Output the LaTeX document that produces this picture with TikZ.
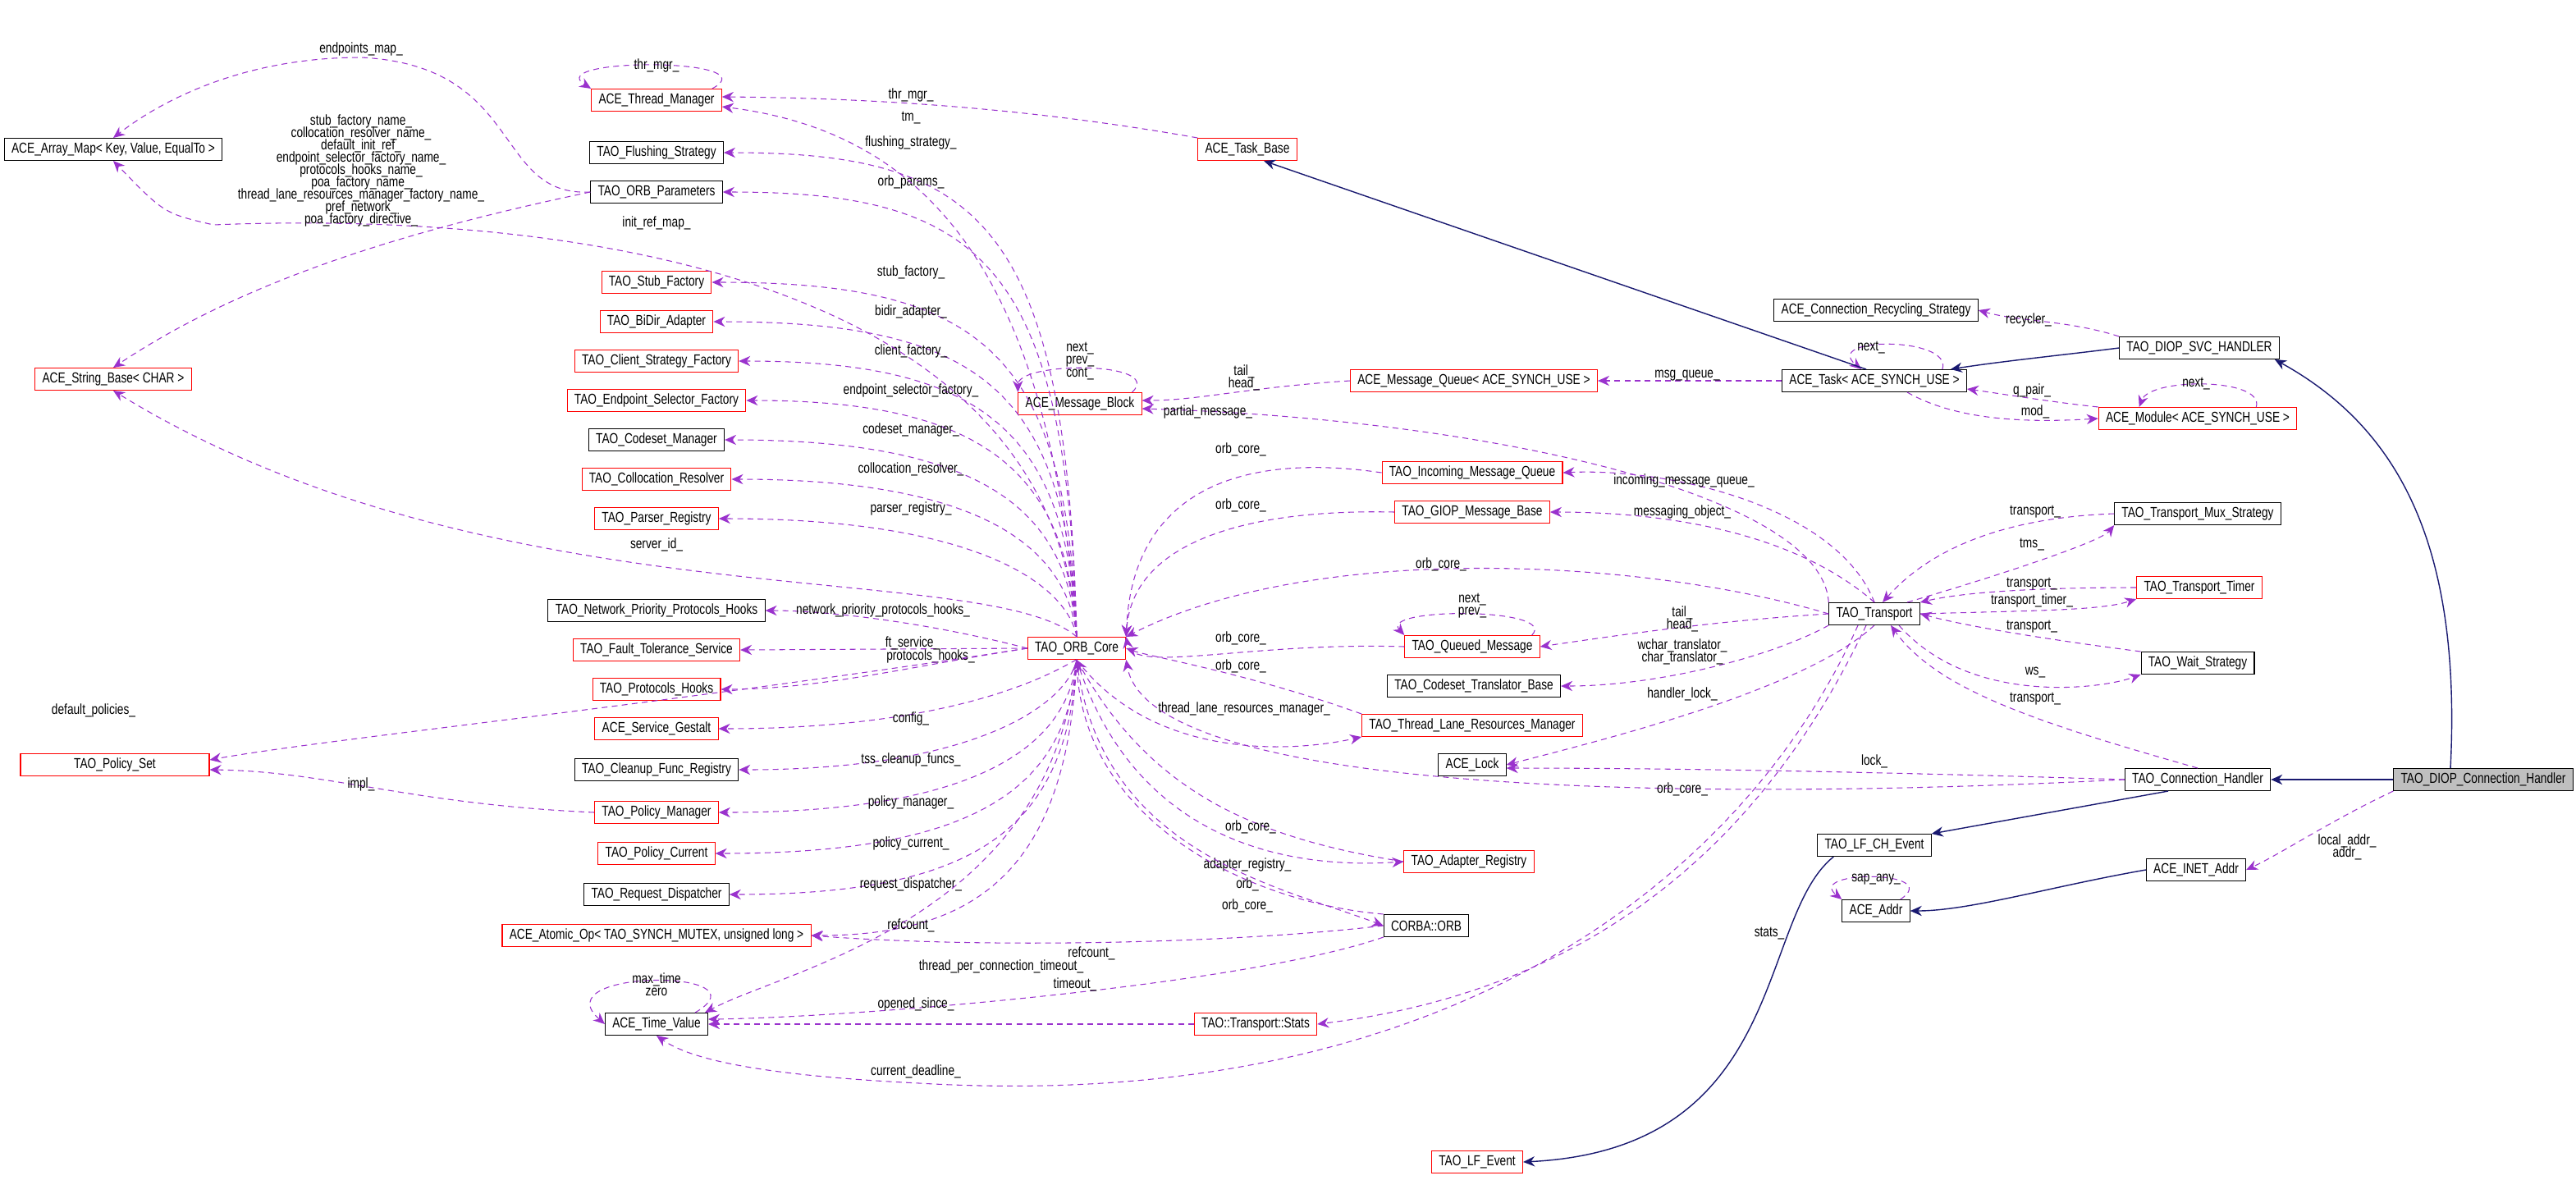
\documentclass[tikz,border=0pt]{standalone}
\usepackage{fontspec}
\setmainfont{Liberation Sans}[FakeStretch=0.78]
\usetikzlibrary{arrows.meta,calc}
\definecolor{depcol}{HTML}{9A32CD}
\definecolor{inhcol}{HTML}{191970}
\newcommand\lblfont{\fontsize{5}{4.3}\selectfont\lineskiplimit=-5pt\relax\lineskip=0pt\relax}
\tikzset{
  cls/.style={draw=red,line width=0.3pt,minimum height=0.27cm,inner xsep=2.5pt,inner ysep=0pt,font=\fontsize{5}{5}\selectfont},
  clsb/.style={cls,draw=black},
  dep/.style={draw=depcol,dashed,dash pattern=on 2pt off 1.5pt,line width=0.3pt,-{Stealth[length=4pt,width=3.5pt,fill=depcol]}},
  inh/.style={draw=inhcol,line width=0.4pt,-{Stealth[length=4pt,width=3.5pt,fill=inhcol]}},
  lbl/.style={font=\lblfont,align=center,inner sep=0pt}
}
\begin{document}
\begin{tikzpicture}[x=0.02cm,y=-0.02cm]
\useasboundingbox (0,0) rectangle (1569.5,732.5);
% classes
\node[clsb] (arrmap) at (69,91) {ACE\_Array\_Map< Key, Value, EqualTo >};
\node[cls] (strbase) at (69,231) {ACE\_String\_Base< CHAR >};
\node[cls,minimum width=2.3cm] (pset) at (70,466) {TAO\_Policy\_Set};
\node[cls] (tmgr) at (400,61) {ACE\_Thread\_Manager};
\node[clsb] (flush) at (400,93) {TAO\_Flushing\_Strategy};
\node[clsb] (params) at (400,117) {TAO\_ORB\_Parameters};
\node[cls] (stub) at (400,172) {TAO\_Stub\_Factory};
\node[cls] (bidir) at (400,196) {TAO\_BiDir\_Adapter};
\node[cls] (client) at (400,220) {TAO\_Client\_Strategy\_Factory};
\node[cls] (epsel) at (400,244) {TAO\_Endpoint\_Selector\_Factory};
\node[clsb] (codeset) at (400,268) {TAO\_Codeset\_Manager};
\node[cls] (colloc) at (400,292) {TAO\_Collocation\_Resolver};
\node[cls] (parser) at (400,316) {TAO\_Parser\_Registry};
\node[clsb] (nphooks) at (400,372) {TAO\_Network\_Priority\_Protocols\_Hooks};
\node[cls] (ft) at (400,396) {TAO\_Fault\_Tolerance\_Service};
\node[cls] (phooks) at (400,420) {TAO\_Protocols\_Hooks};
\node[cls] (gestalt) at (400,444) {ACE\_Service\_Gestalt};
\node[clsb] (cleanup) at (400,469) {TAO\_Cleanup\_Func\_Registry};
\node[cls] (pmgr) at (400,495) {TAO\_Policy\_Manager};
\node[cls] (pcur) at (400,520) {TAO\_Policy\_Current};
\node[clsb] (rdisp) at (400,545) {TAO\_Request\_Dispatcher};
\node[cls] (atomic) at (400,570) {ACE\_Atomic\_Op< TAO\_SYNCH\_MUTEX, unsigned long >};
\node[clsb] (tv) at (400,624) {ACE\_Time\_Value};
\node[cls] (orb) at (656,395) {TAO\_ORB\_Core};
\node[cls] (mblock) at (658,246) {ACE\_Message\_Block};
\node[clsb] (corba) at (869,564) {CORBA::ORB};
\node[cls] (adreg) at (895,525) {TAO\_Adapter\_Registry};
\node[cls] (stats) at (765,624) {TAO::Transport::Stats};
\node[cls] (lfev) at (900,708) {TAO\_LF\_Event};
\node[cls] (taskbase) at (760,91) {ACE\_Task\_Base};
\node[clsb] (recyc) at (1143,189) {ACE\_Connection\_Recycling\_Strategy};
\node[clsb] (svc) at (1340,212) {TAO\_DIOP\_SVC\_HANDLER};
\node[clsb] (task) at (1142,232) {ACE\_Task< ACE\_SYNCH\_USE >};
\node[cls] (mqueue) at (898,232) {ACE\_Message\_Queue< ACE\_SYNCH\_USE >};
\node[cls] (module) at (1339,255) {ACE\_Module< ACE\_SYNCH\_USE >};
\node[cls] (inq) at (897,288) {TAO\_Incoming\_Message\_Queue};
\node[cls] (giop) at (897,312) {TAO\_GIOP\_Message\_Base};
\node[clsb] (mux) at (1339,313) {TAO\_Transport\_Mux\_Strategy};
\node[cls] (timer) at (1340,358) {TAO\_Transport\_Timer};
\node[clsb] (transport) at (1142,374) {TAO\_Transport};
\node[cls] (queued) at (897,394) {TAO\_Queued\_Message};
\node[clsb] (wait) at (1339,404) {TAO\_Wait\_Strategy};
\node[clsb] (cstrans) at (898,418) {TAO\_Codeset\_Translator\_Base};
\node[cls] (tlrm) at (897,442) {TAO\_Thread\_Lane\_Resources\_Manager};
\node[clsb] (lock) at (897,466) {ACE\_Lock};
\node[clsb] (conn) at (1339,475) {TAO\_Connection\_Handler};
\node[clsb,fill=black!25] (diop) at (1513,475) {TAO\_DIOP\_Connection\_Handler};
\node[clsb] (lfch) at (1142,515) {TAO\_LF\_CH\_Event};
\node[clsb] (inet) at (1338,530) {ACE\_INET\_Addr};
\node[clsb] (addr) at (1143,555) {ACE\_Addr};
\coordinate (lx) at (555,0);
% members of TAO_ORB_Core
\foreach \t/\l in {flush/flushing\_strategy\_,params/orb\_params\_,stub/stub\_factory\_,bidir/bidir\_adapter\_,client/client\_factory\_,epsel/endpoint\_selector\_factory\_,codeset/codeset\_manager\_,colloc/collocation\_resolver\_,parser/parser\_registry\_}{
  \draw[dep] (orb.north) .. controls ($(\t.east -| lx)+(95,40)$) and ($(\t.east -| lx)+(40,0)$) .. (\t.east);
  \node[lbl,above=1pt] at (\t.east -| lx) {\l};
}
\foreach \t/\l in {gestalt/config\_,cleanup/tss\_cleanup\_funcs\_,pmgr/policy\_manager\_,pcur/policy\_current\_,rdisp/request\_dispatcher\_,atomic/refcount\_}{
  \draw[dep] (orb.south) .. controls ($(\t.east -| lx)+(95,-40)$) and ($(\t.east -| lx)+(40,0)$) .. (\t.east);
  \node[lbl,above=1pt] at (\t.east -| lx) {\l};
}
\draw[dep] (orb.west) .. controls (560,378) and (500,372) .. (nphooks.east);
\node[lbl] at (538,372) {network\_priority\_protocols\_hooks\_};
\draw[dep] (orb.west) -- (ft.east);
\node[lbl] at (556,392) {ft\_service\_};
\draw[dep] (orb.west) .. controls (560,405) and (500,420) .. (phooks.east);
\node[lbl] at (567,400) {protocols\_hooks\_};
\draw[dep] (orb.north) .. controls (640,160) and (560,80) .. ($(tmgr.east)+(0,4)$);
\node[lbl] at (555,72) {tm\_};
\draw[dep] (orb.north) .. controls (640,150) and (300,130) .. (130,137) .. controls (100,130) .. (arrmap.south);
\node[lbl] at (400,136) {init\_ref\_map\_};
\draw[dep] (params.west) .. controls (300,120) and (320,40) .. (220,35) .. controls (150,35) and (100,60) .. (arrmap.north);
\node[lbl] at (220,30) {endpoints\_map\_};
\draw[dep] (params.west) .. controls (250,140) and (150,170) .. (strbase.north);
\node[lbl] at (220,104) {stub\_factory\_name\_\\collocation\_resolver\_name\_\\default\_init\_ref\_\\endpoint\_selector\_factory\_name\_\\protocols\_hooks\_name\_\\poa\_factory\_name\_\\thread\_lane\_resources\_manager\_factory\_name\_\\pref\_network\_\\poa\_factory\_directive\_};
\draw[dep] (orb.north) .. controls (600,340) and (300,380) .. (strbase.south);
\node[lbl] at (400,332) {server\_id\_};
\draw[dep] (orb.west) .. controls (400,430) and (200,450) .. ($(pset.east)+(0,-3)$);
\node[lbl] at (57,433) {default\_policies\_};
\draw[dep] (pmgr.west) .. controls (250,490) and (200,470) .. ($(pset.east)+(0,3)$);
\node[lbl] at (220,478) {impl\_};
\draw[dep] (corba.west) .. controls (750,575) and (600,578) .. (atomic.east);
\node[lbl] at (665,581) {refcount\_};
\draw[dep] (orb.south) .. controls (640,560) and (480,590) .. ($(tv.north east)+(-2,0)$);
\node[lbl] at (610,589) {thread\_per\_connection\_timeout\_};
\draw[dep] (corba.south west) .. controls (760,600) and (520,620) .. ($(tv.east)+(0,-3)$);
\node[lbl] at (655,600) {timeout\_};
\draw[dep] ($(tv.north east)+(-8,0)$) .. controls (470,590) and (330,590) .. (tv.west);
\node[lbl] at (400,600) {max\_time\\zero};
\draw[dep] ($(tmgr.north east)+(-6,0)$) .. controls (470,35) and (330,35) .. (tmgr.north west);
\node[lbl] at (400,40) {thr\_mgr\_};
\draw[dep] (taskbase.north west) .. controls (650,70) and (560,60) .. ($(tmgr.east)+(0,-2)$);
\node[lbl] at (555,58) {thr\_mgr\_};
\draw[dep] ($(mblock.north east)+(-6,0)$) .. controls (710,220) and (620,220) .. (mblock.north west);
\node[lbl] at (658,220) {next\_\\prev\_\\cont\_};
% ORB_Core back references
\foreach \s/\yy in {inq/276,giop/310,queued/391}{
  \draw[dep] (\s.west) .. controls (760,\yy) and (690,\yy+20) .. (orb.north east);
  \node[lbl] at (756,\yy-2) {orb\_core\_};
}
\draw[dep] (transport.west) .. controls (1000,340) and (800,330) .. (orb.north east);
\node[lbl] at (878,344) {orb\_core\_};
\draw[dep] (tlrm.north west) .. controls (760,410) and (700,400) .. (orb.east);
\node[lbl] at (756,406) {orb\_core\_};
\draw[dep] (orb.south) .. controls (700,460) and (780,460) .. (tlrm.south west);
\node[lbl] at (758,432) {thread\_lane\_resources\_manager\_};
\draw[dep] (conn.west) .. controls (1000,490) and (700,480) .. (orb.south east);
\node[lbl] at (1025,481) {orb\_core\_};
\draw[dep] (adreg.west) .. controls (760,510) and (700,480) .. (orb.south);
\node[lbl] at (762,504) {orb\_core\_};
\draw[dep] (orb.south) .. controls (690,510) and (780,530) .. (adreg.west);
\node[lbl] at (760,527) {adapter\_registry\_};
\draw[dep] (orb.south) .. controls (670,520) and (780,540) .. (corba.west);
\node[lbl] at (760,539) {orb\_};
\draw[dep] (corba.north west) .. controls (760,550) and (660,500) .. (orb.south);
\node[lbl] at (760,552) {orb\_core\_};
% Message block and tasks
\draw[dep] (mqueue.west) .. controls (760,236) and (730,244) .. ($(mblock.east)+(0,-2)$);
\node[lbl] at (758,230) {tail\_\\head\_};
\draw[dep] (transport.north west) .. controls (1110,300) and (900,255) .. ($(mblock.east)+(0,3)$);
\node[lbl] at (736,251) {partial\_message\_};
\draw[dep] (task.west) -- (mqueue.east);
\node[lbl] at (1028,229) {msg\_queue\_};
\draw[dep] ($(task.north east)+(-15,0)$) .. controls (1190,205) and (1110,205) .. ($(task.north)+(-8,0)$);
\node[lbl] at (1140,212) {next\_};
\draw[inh] ($(task.north)+(-5,0)$) -- ($(taskbase.south)+(10,0)$);
\draw[dep] (svc.north west) .. controls (1260,195) and (1230,196) .. (recyc.east);
\node[lbl] at (1236,195) {recycler\_};
\draw[inh] (svc.west) .. controls (1260,216) and (1220,220) .. ($(task.north east)+(-10,0)$);
\draw[dep] (module.north west) .. controls (1250,245) and (1220,240) .. ($(task.east)+(0,5)$);
\node[lbl] at (1238,238) {q\_pair\_};
\draw[dep] ($(task.south)+(20,0)$) .. controls (1190,255) and (1230,258) .. (module.west);
\node[lbl] at (1240,251) {mod\_};
\draw[dep] ($(module.north east)+(-25,0)$) .. controls (1380,230) and (1310,230) .. ($(module.north west)+(25,0)$);
\node[lbl] at (1338,234) {next\_};
\draw[inh] ($(diop.north)+(-20,0)$) .. controls (1500,330) and (1460,260) .. ($(svc.south east)+(-3,0)$);
\draw[inh] (diop.west) -- (conn.east);
\draw[inh] ($(conn.south)+(-18,0)$) -- (lfch.north east);
\draw[inh] ($(lfch.south west)+(10,0)$) .. controls (1070,560) and (1090,700) .. (lfev.east);
\draw[inh] (inet.west) .. controls (1250,540) and (1200,555) .. (addr.east);
\draw[dep] ($(addr.north east)+(-6,0)$) .. controls (1185,530) and (1100,530) .. (addr.north west);
\node[lbl] at (1143,536) {sap\_any\_};
\draw[dep] (diop.south west) .. controls (1420,500) and (1390,520) .. (inet.east);
\node[lbl] at (1430,516) {local\_addr\_\\addr\_};
% members of TAO_Transport
\draw[dep] (transport.north) .. controls (1120,310) and (1020,285) .. (inq.east);
\node[lbl] at (1026,293) {incoming\_message\_queue\_};
\draw[dep] (transport.north) .. controls (1100,330) and (1030,312) .. (giop.east);
\node[lbl] at (1025,312) {messaging\_object\_};
\draw[dep] (transport.west) .. controls (1050,378) and (1000,385) .. (queued.east);
\node[lbl] at (1025,377) {tail\_\\head\_};
\draw[dep] ($(queued.north east)+(-5,0)$) .. controls (950,370) and (840,370) .. ($(queued.north west)+(0,0)$);
\node[lbl] at (897,369) {next\_\\prev\_};
\draw[dep] (transport.south west) .. controls (1080,400) and (1010,418) .. (cstrans.east);
\node[lbl] at (1025,397) {wchar\_translator\_\\char\_translator\_};
\draw[dep] (transport.south) .. controls (1100,420) and (980,450) .. (lock.east);
\node[lbl] at (1025,423) {handler\_lock\_};
\draw[dep] (conn.west) .. controls (1200,472) and (1050,468) .. ($(lock.east)+(0,2)$);
\node[lbl] at (1142,464) {lock\_};
\draw[dep] (conn.north) .. controls (1240,440) and (1180,420) .. ($(transport.south)+(10,0)$);
\node[lbl] at (1240,426) {transport\_};
\draw[dep] (mux.west) .. controls (1230,315) and (1180,330) .. ($(transport.north)+(5,0)$);
\node[lbl] at (1240,312) {transport\_};
\draw[dep] ($(transport.north)+(20,0)$) .. controls (1220,350) and (1280,330) .. (mux.south west);
\node[lbl] at (1238,332) {tms\_};
\draw[dep] (timer.west) .. controls (1250,358) and (1200,360) .. (transport.north east);
\node[lbl] at (1238,356) {transport\_};
\draw[dep] (transport.east) .. controls (1240,372) and (1280,372) .. (timer.south west);
\node[lbl] at (1238,366) {transport\_timer\_};
\draw[dep] (wait.north west) .. controls (1250,390) and (1200,382) .. (transport.east);
\node[lbl] at (1238,382) {transport\_};
\draw[dep] ($(transport.south)+(15,0)$) .. controls (1200,430) and (1280,420) .. (wait.south west);
\node[lbl] at (1240,410) {ws\_};
\draw[dep] ($(transport.south)+(-5,0)$) .. controls (1090,480) and (1000,600) .. (stats.east);
\node[lbl] at (1078,569) {stats\_};
\draw[dep] (stats.west) -- (tv.east);
\node[lbl] at (558,612) {opened\_since\_};
\draw[dep] ($(transport.south)+(-10,0)$) .. controls (1070,520) and (900,680) .. (560,660) .. controls (460,655) and (420,645) .. (tv.south);
\node[lbl] at (558,653) {current\_deadline\_};
\end{tikzpicture}
\end{document}
